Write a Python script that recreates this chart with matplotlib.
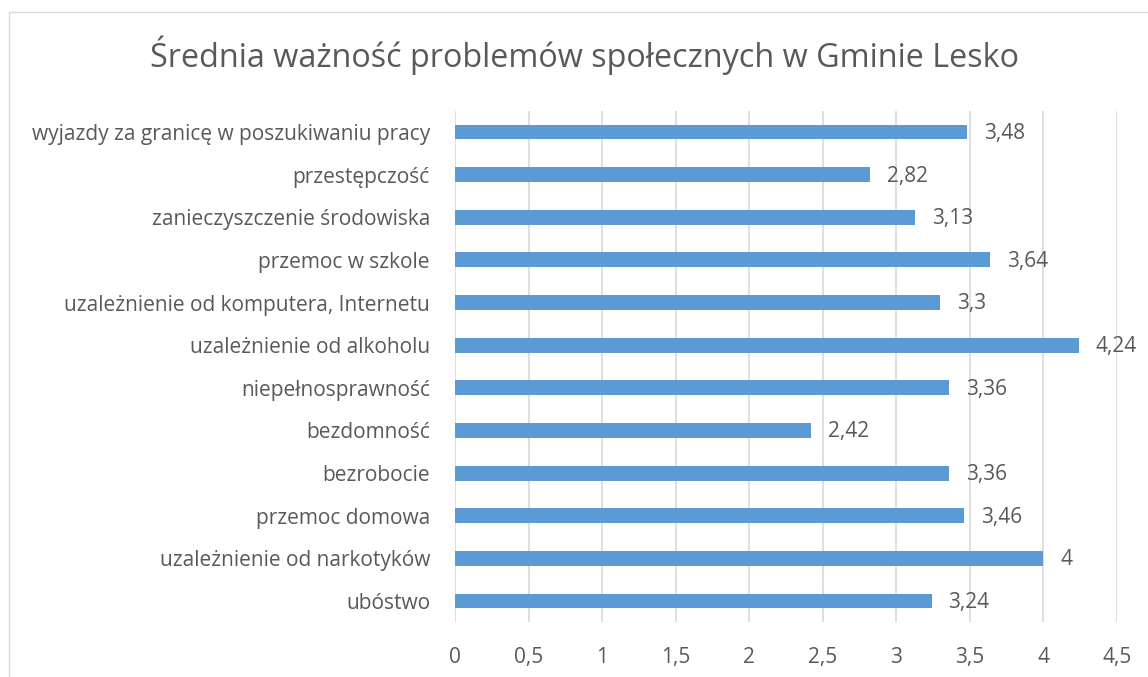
import matplotlib
matplotlib.use("Agg")
import matplotlib.pyplot as plt
from matplotlib.patches import Rectangle

plt.rcParams['font.family'] = ['Open Sans', 'DejaVu Sans']

categories = [
    "ubóstwo",
    "uzależnienie od narkotyków",
    "przemoc domowa",
    "bezrobocie",
    "bezdomność",
    "niepełnosprawność",
    "uzależnienie od alkoholu",
    "uzależnienie od komputera, Internetu",
    "przemoc w szkole",
    "zanieczyszczenie środowiska",
    "przestępczość",
    "wyjazdy za granicę w poszukiwaniu pracy",
]
values = [3.24, 4.0, 3.46, 3.36, 2.42, 3.36, 4.24, 3.3, 3.64, 3.13, 2.82, 3.48]
labels = ["3,24", "4", "3,46", "3,36", "2,42", "3,36", "4,24", "3,3", "3,64", "3,13", "2,82", "3,48"]
xticks = [0, 0.5, 1, 1.5, 2, 2.5, 3, 3.5, 4, 4.5]
xticklabels = ["0", "0,5", "1", "1,5", "2", "2,5", "3", "3,5", "4", "4,5"]
title = "Średnia ważność problemów społecznych w Gminie Lesko"

text_color = "#595959"
bar_color = "#5B9BD5"
grid_color = "#D9D9D9"

fig = plt.figure(figsize=(11.48, 6.77), dpi=100)
fig.patches.append(Rectangle((9/1148, -0.05), 1.2, 1 - 12/677 + 0.05,
                             transform=fig.transFigure, fill=False,
                             edgecolor=grid_color, linewidth=1.0))
ax = fig.add_axes([455/1148, 1 - 622.3/677, (1117 - 455)/1148, (622.3 - 110.7)/677])

y = list(range(len(categories)))
ax.barh(y, values, height=0.35, color=bar_color, zorder=3)
for yi, v, lab in zip(y, values, labels):
    ax.annotate(lab, (v, yi), xytext=(12, -1), textcoords="offset points",
                va="center", ha="left", fontsize=15, color=text_color)

ax.set_xlim(0, 4.5)
ax.set_ylim(-0.5, len(categories) - 0.5)
ax.set_xticks(xticks)
ax.set_xticklabels(xticklabels, fontsize=15, color=text_color)
ax.set_yticks(y)
ax.set_yticklabels(categories, fontsize=15, color=text_color)
ax.tick_params(axis='both', length=0)
ax.tick_params(axis='x', pad=18)
ax.tick_params(axis='y', pad=18)
ax.grid(axis='x', color=grid_color, linewidth=1.2, zorder=0)
for s in ax.spines.values():
    s.set_visible(False)

fig.text(585/1148, 1 - 55/677, title, ha="center", va="center",
         fontsize=23.3, color=text_color)

fig.savefig("out.png", dpi=100)
